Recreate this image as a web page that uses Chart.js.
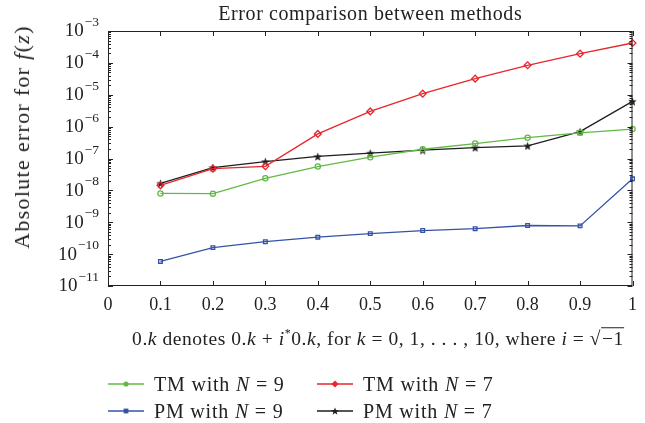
<!DOCTYPE html>
<html>
<head>
<meta charset="utf-8">
<script src="https://cdn.jsdelivr.net/npm/chart.js@4.4.0/dist/chart.umd.min.js"></script>
<style>
  body { margin: 0; background: #fff; font-family: "Liberation Serif", serif; color: #222; }
  #wrap { position: relative; width: 645px; height: 423px; }
  #chart { position: absolute; left: 0; top: 0; }
  .txt { position: absolute; white-space: nowrap; }
  #ylab { left: 22px; top: 137px; font-size: 22px; letter-spacing: 1.3px; transform: translate(-50%, -50%) rotate(-90deg); }
  #xlab { left: 378px; top: 338px; font-size: 19.5px; letter-spacing: 0.55px; transform: translate(-50%, -50%); }
  .sq { border-top: 1px solid #222; padding-left: 1px; }
  .leg { position: absolute; font-size: 20px; letter-spacing: 0.8px; display: flex; align-items: center; height: 24px; }
  .leg svg { margin-right: 10px; }
</style>
</head>
<body>
<div id="wrap">
  <canvas id="chart" width="645" height="423"></canvas>
  <div class="txt" id="ylab">Absolute error for <i>f</i>(<i>z</i>)</div>
  <div class="txt" id="xlab">0.<i>k</i> denotes 0.<i>k</i> + <i>i</i><sup style="font-size:12px">*</sup>0.<i>k</i>, for <i>k</i> = 0, 1, . . . , 10, where <i>i</i> = &#8730;<span class="sq">&minus;1</span></div>
  <div id="legend"></div>
</div>
<script>
// datos
const xValues = [0.1, 0.2, 0.3, 0.4, 0.5, 0.6, 0.7, 0.8, 0.9, 1.0];
const tmN9 = [8.0e-9, 7.9e-9, 2.4e-8, 5.6e-8, 1.1e-7, 1.95e-7, 2.95e-7, 4.5e-7, 6.4e-7, 8.4e-7];
const tmN7 = [1.44e-8, 4.8e-8, 5.7e-8, 5.9e-7, 3.0e-6, 1.08e-5, 3.2e-5, 8.4e-5, 1.95e-4, 4.2e-4];
const pmN9 = [5.9e-11, 1.6e-10, 2.45e-10, 3.4e-10, 4.4e-10, 5.5e-10, 6.3e-10, 7.9e-10, 7.7e-10, 2.3e-8];
const pmN7 = [1.66e-8, 5.2e-8, 8.0e-8, 1.16e-7, 1.47e-7, 1.83e-7, 2.2e-7, 2.5e-7, 7.0e-7, 6.2e-6];
const xTicks = [0, 0.1, 0.2, 0.3, 0.4, 0.5, 0.6, 0.7, 0.8, 0.9, 1];
const yTicks = [1e-11, 1e-10, 1e-9, 1e-8, 1e-7, 1e-6, 1e-5, 1e-4, 1e-3];
const titleText = 'Error comparison between methods';

// estrella rellena para PM con N = 7
function starImage(size, color) {
  const c = document.createElement('canvas');
  c.width = size; c.height = size;
  const g = c.getContext('2d');
  const r = size / 2, ri = r * 0.42;
  g.beginPath();
  for (let i = 0; i < 10; i++) {
    const rad = i % 2 === 0 ? r : ri;
    const a = -Math.PI / 2 + i * Math.PI / 5;
    const px = r + rad * Math.cos(a), py = r + rad * Math.sin(a) + 0.5;
    i === 0 ? g.moveTo(px, py) : g.lineTo(px, py);
  }
  g.closePath();
  g.fillStyle = color;
  g.fill();
  return c;
}

const toPoints = arr => arr.map((v, i) => ({ x: xValues[i], y: v }));

const series = [
  { label: 'TM with N = 9', data: tmN9, color: '#62b946', style: 'circle', radius: 2.6 },
  { label: 'TM with N = 7', data: tmN7, color: '#e8262d', style: 'rectRot', radius: 3.4 },
  { label: 'PM with N = 9', data: pmN9, color: '#3553a6', style: 'rect', radius: 2.6 },
  { label: 'PM with N = 7', data: pmN7, color: '#1e1e1e', style: starImage(9, '#1e1e1e'), radius: 4 }
];

// marco, ticks hacia adentro, etiquetas 10^n y titulo
const boxPlugin = {
  id: 'box',
  afterDatasetsDraw(chart) {
    const { ctx, chartArea: a, scales: { x, y } } = chart;
    ctx.save();
    ctx.strokeStyle = '#222';
    ctx.lineWidth = 1;
    ctx.strokeRect(a.left + 0.5, a.top + 0.5, a.right - a.left - 1, a.bottom - a.top - 1);
    ctx.beginPath();
    xTicks.forEach(v => {
      const px = Math.round(x.getPixelForValue(v)) + 0.5;
      ctx.moveTo(px, a.bottom); ctx.lineTo(px, a.bottom - 5);
      ctx.moveTo(px, a.top); ctx.lineTo(px, a.top + 5);
    });
    yTicks.forEach((v, i) => {
      const py = Math.round(y.getPixelForValue(v)) + 0.5;
      ctx.moveTo(a.left, py); ctx.lineTo(a.left + 5, py);
      ctx.moveTo(a.right, py); ctx.lineTo(a.right - 5, py);
      if (i < yTicks.length - 1) {
        for (let m = 2; m <= 9; m++) {
          const pm = Math.round(y.getPixelForValue(v * m)) + 0.5;
          ctx.moveTo(a.left, pm); ctx.lineTo(a.left + 3, pm);
          ctx.moveTo(a.right, pm); ctx.lineTo(a.right - 3, pm);
        }
      }
    });
    ctx.stroke();

    ctx.fillStyle = '#222';
    ctx.textAlign = 'right';
    ctx.textBaseline = 'middle';
    yTicks.forEach(v => {
      const py = y.getPixelForValue(v);
      const ex = '\u2212' + String(-Math.round(Math.log10(v)));
      ctx.font = '13.5px "Liberation Serif", serif';
      const w = ctx.measureText(ex).width;
      ctx.fillText(ex, a.left - 9, py - 8.5);
      ctx.font = '19px "Liberation Serif", serif';
      ctx.fillText('10', a.left - 10 - w, py + 0.5);
    });

    ctx.font = '20px "Liberation Serif", serif';
    ctx.letterSpacing = '0.6px';
    ctx.textAlign = 'center';
    ctx.fillText(titleText, (a.left + a.right) / 2, 15);
    ctx.restore();
  }
};

const ctx = document.querySelector('#chart').getContext('2d');
const myChart = new Chart(ctx, {
  type: 'line',
  data: {
    datasets: series.map(s => ({
      label: s.label,
      data: toPoints(s.data),
      borderColor: s.color,
      backgroundColor: 'rgba(255,255,255,0)',
      pointBorderColor: s.color,
      pointBackgroundColor: 'rgba(255,255,255,0)',
      pointStyle: s.style,
      pointRadius: s.radius,
      pointBorderWidth: 1.3,
      borderWidth: 1.3,
      tension: 0,
      clip: false
    }))
  },
  options: {
    responsive: false,
    animation: false,
    events: [],
    layout: { padding: { left: 0, right: 8, top: 31, bottom: 0 } },
    plugins: { legend: { display: false }, tooltip: { enabled: false }, title: { display: false } },
    scales: {
      x: {
        type: 'linear',
        min: 0, max: 1,
        grid: { display: false, drawTicks: false },
        border: { display: false },
        afterBuildTicks: s => { s.ticks = xTicks.map(v => ({ value: v })); },
        afterFit: s => { s.height = 137; },
        ticks: {
          padding: 8,
          maxRotation: 0,
          color: '#222',
          font: { family: '"Liberation Serif", serif', size: 18 },
          callback: v => String(+Number(v).toFixed(1))
        }
      },
      y: {
        type: 'logarithmic',
        min: 1e-11, max: 1e-3,
        grid: { display: false, drawTicks: false },
        border: { display: false },
        afterBuildTicks: s => { s.ticks = yTicks.map(v => ({ value: v })); },
        afterFit: s => { s.width = 108; },
        ticks: { display: false }
      }
    }
  },
  plugins: [boxPlugin]
});

// leyenda en dos columnas
const legendPos = [[108, 384], [317, 384], [108, 411], [317, 411]];
const legend = document.querySelector('#legend');
function markerSvg(s) {
  let m = '';
  if (s.style === 'circle') m = `<circle cx="18" cy="6" r="2.6" fill="${s.color}"/>`;
  else if (s.style === 'rectRot') m = `<path d="M18 2.5 L21.5 6 L18 9.5 L14.5 6 Z" fill="${s.color}"/>`;
  else if (s.style === 'rect') m = `<rect x="15.6" y="3.6" width="4.8" height="4.8" fill="${s.color}"/>`;
  else {
    let p = '';
    for (let i = 0; i < 10; i++) {
      const r = i % 2 === 0 ? 4 : 1.7, a = -Math.PI / 2 + i * Math.PI / 5;
      p += (i ? 'L' : 'M') + (18 + r * Math.cos(a)).toFixed(2) + ' ' + (6.4 + r * Math.sin(a)).toFixed(2) + ' ';
    }
    m = `<path d="${p}Z" fill="${s.color}"/>`;
  }
  return `<svg width="36" height="12"><line x1="0" y1="6" x2="36" y2="6" stroke="${s.color}" stroke-width="1.4"/>${m}</svg>`;
}
series.forEach((s, i) => {
  const d = document.createElement('div');
  d.className = 'leg';
  d.style.left = legendPos[i][0] + 'px';
  d.style.top = (legendPos[i][1] - 12) + 'px';
  const parts = s.label.split(' N ');
  d.innerHTML = markerSvg(s) + `<span>${parts[0]} <i>N</i> ${parts[1]}</span>`;
  legend.appendChild(d);
});
</script>
</body>
</html>
